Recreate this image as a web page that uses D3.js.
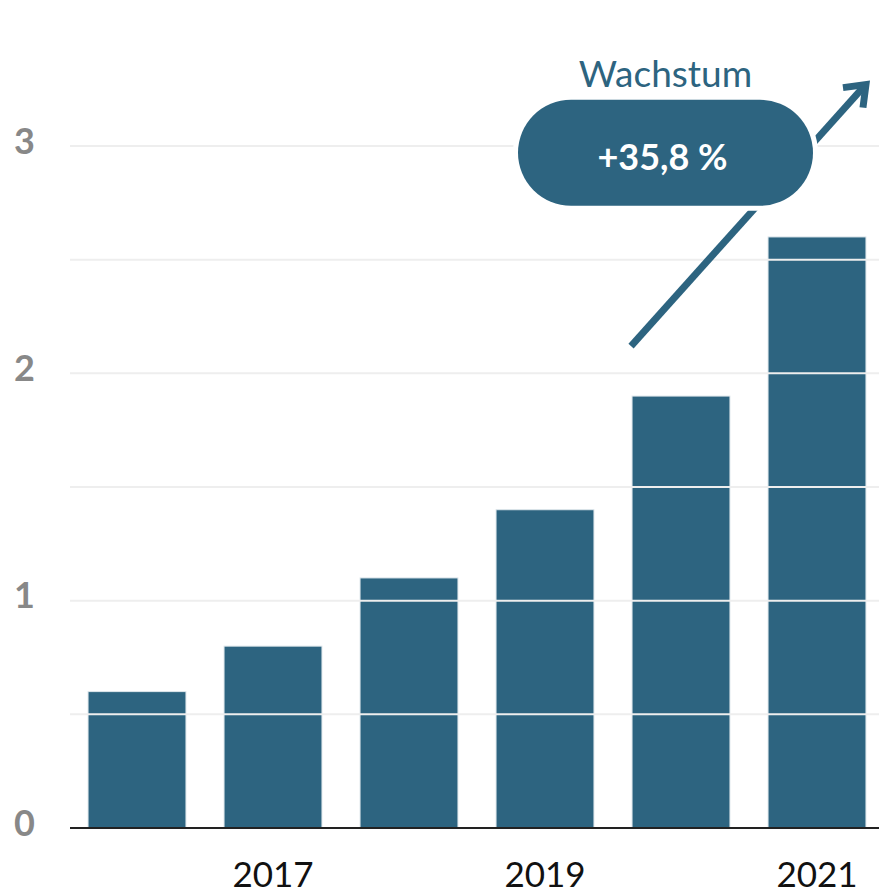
<!DOCTYPE html>
<html>
<head>
<meta charset="utf-8">
<script src="https://cdn.jsdelivr.net/npm/d3@7"></script>
<style>
  body { margin: 0; background: #fff; }
  svg { display: block; font-family: Lato, "Open Sans", sans-serif; }
</style>
</head>
<body>
<svg id="chart"></svg>
<script>
const width = 879, height = 892;

const years = [2016, 2017, 2018, 2019, 2020, 2021];
const values = [0.6, 0.8, 1.1, 1.4, 1.9, 2.6];
const yTicks = [0, 1, 2, 3];
const gridValues = [0.5, 1, 1.5, 2, 2.5, 3];
const xLabels = [2017, 2019, 2021];
const growthTitle = "Wachstum";
const growthLabel = "+35,8 %";

const barColor = "#2d6480";

const svg = d3.select("#chart")
    .attr("width", width)
    .attr("height", height);

const x = d3.scaleBand()
    .domain(years)
    .range([69, 885])
    .paddingInner(0.28)
    .paddingOuter(0.14);

const y = d3.scaleLinear()
    .domain([0, 3])
    .range([828, 146]);

const data = years.map((yr, i) => ({ year: yr, value: values[i] }));

// bars
svg.append("g")
    .selectAll("rect")
    .data(data)
    .enter().append("rect")
    .attr("x", d => x(d.year))
    .attr("y", d => y(d.value))
    .attr("width", x.bandwidth())
    .attr("height", d => y(0) - y(d.value))
    .style("fill", barColor)
    .style("stroke", "#dfe7ec")
    .style("stroke-width", 1);

// grid lines (drawn on top, light on the bars)
svg.append("g")
    .selectAll("line")
    .data(gridValues)
    .enter().append("line")
    .attr("x1", 70)
    .attr("x2", width)
    .attr("y1", d => y(d))
    .attr("y2", d => y(d))
    .style("stroke", "#eeeeee")
    .style("stroke-width", 2);

// y axis labels
const yAxis = svg.append("g")
    .attr("transform", "translate(70,0)")
    .call(d3.axisLeft(y).tickValues(yTicks).tickSize(0).tickPadding(35).tickFormat(d3.format("d")));
yAxis.select(".domain").remove();
yAxis.selectAll("text")
    .attr("dy", "0.2em")
    .style("font-family", "Lato, sans-serif")
    .style("font-size", "36px")
    .style("font-weight", "bold")
    .style("fill", "#888");

// x axis labels
const xAxis = svg.append("g")
    .attr("transform", `translate(0,${y(0)})`)
    .call(d3.axisBottom(x).tickValues(xLabels).tickSize(0).tickPadding(34));
xAxis.select(".domain").remove();
xAxis.selectAll("text")
    .style("font-family", "Lato, sans-serif")
    .style("font-size", "35px")
    .style("fill", "#111");

// baseline
svg.append("line")
    .attr("x1", 70)
    .attr("x2", width)
    .attr("y1", y(0))
    .attr("y2", y(0))
    .style("stroke", "#222")
    .style("stroke-width", 2);

// growth arrow
const arrowStart = [x(2020) - 1, y(2.12)];
const arrowEnd = [x(2021) + x.bandwidth(), y(3.27)];
svg.append("line")
    .attr("x1", arrowStart[0])
    .attr("y1", arrowStart[1])
    .attr("x2", arrowEnd[0] - 3)
    .attr("y2", arrowEnd[1] + 3)
    .style("stroke", barColor)
    .style("stroke-width", 7);
svg.append("path")
    .attr("d", d3.line()([
        [arrowEnd[0] - 23, arrowEnd[1] + 3],
        [arrowEnd[0], arrowEnd[1]],
        [arrowEnd[0] - 3, arrowEnd[1] + 23]
    ]))
    .style("fill", "none")
    .style("stroke", barColor)
    .style("stroke-width", 7)
    .style("stroke-linejoin", "miter");

// growth pill
const pillW = 295, pillH = 106;
const pillCx = 665.5, pillCy = y(2.97);
svg.append("rect")
    .attr("x", pillCx - pillW / 2 - 5)
    .attr("y", pillCy - pillH / 2 - 5)
    .attr("width", pillW + 10)
    .attr("height", pillH + 10)
    .attr("rx", pillH / 2 + 5)
    .style("fill", "#fff");
svg.append("rect")
    .attr("x", pillCx - pillW / 2)
    .attr("y", pillCy - pillH / 2)
    .attr("width", pillW)
    .attr("height", pillH)
    .attr("rx", pillH / 2)
    .style("fill", barColor);

svg.append("text")
    .attr("x", pillCx - 3)
    .attr("y", pillCy + 17)
    .attr("text-anchor", "middle")
    .style("font-size", "36px")
    .style("font-weight", "bold")
    .style("fill", "#fff")
    .text(growthLabel);

svg.append("text")
    .attr("x", pillCx)
    .attr("y", 87)
    .attr("text-anchor", "middle")
    .style("font-size", "37px")
    .style("fill", barColor)
    .text(growthTitle);
</script>
</body>
</html>
